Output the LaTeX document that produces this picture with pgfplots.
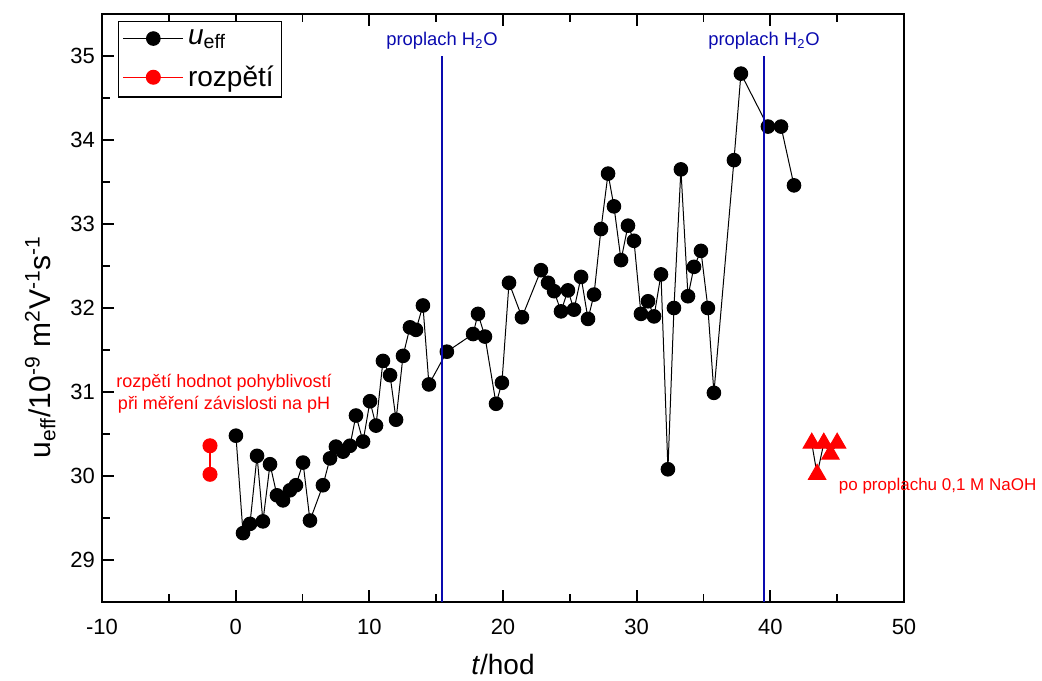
\documentclass[border=0pt]{standalone}
\usepackage{pgfplots}
\pgfplotsset{compat=1.18}
\usepackage{fontspec}
\setmainfont{Liberation Sans}
\definecolor{flushblue}{RGB}{10,10,175}

% effective mobility vs. time
\pgfplotstableread{
t     u
0.02  30.48
0.55  29.32
1.07  29.43
1.60  30.24
2.04  29.46
2.57  30.14
3.09  29.77
3.54  29.71
4.06  29.83
4.51  29.89
5.04  30.16
5.56  29.47
6.53  29.89
7.06  30.21
7.50  30.35
8.03  30.29
8.55  30.36
9.00  30.72
9.53  30.41
10.05 30.89
10.50 30.60
11.02 31.37
11.55 31.20
12.00 30.67
12.52 31.43
13.04 31.77
13.49 31.74
14.01 32.03
14.46 31.09
15.80 31.48
17.76 31.69
18.13 31.93
18.65 31.66
19.48 30.86
19.92 31.11
20.45 32.30
21.42 31.89
22.84 32.45
23.37 32.30
23.82 32.20
24.34 31.96
24.86 32.21
25.31 31.98
25.84 32.37
26.36 31.87
26.81 32.16
27.33 32.94
27.86 33.60
28.30 33.21
28.83 32.57
29.35 32.98
29.80 32.80
30.32 31.93
30.85 32.08
31.30 31.90
31.82 32.40
32.34 30.08
32.79 32.00
33.31 33.65
33.84 32.14
34.29 32.49
34.81 32.68
35.33 32.00
35.78 30.99
37.28 33.76
37.80 34.79
39.82 34.16
40.80 34.16
41.77 33.46
}\ueff

% range from the pH-dependence measurements
\pgfplotstableread{
t     u
-1.92 30.36
-1.92 30.02
}\rozpeti

% after flushing with 0.1 M NaOH
\pgfplotstableread{
t     u
43.10 30.39
43.50 30.02
44.00 30.39
44.50 30.26
45.00 30.39
}\naoh

\begin{document}
\begin{tikzpicture}
\begin{axis}[
  at={(0,0)}, anchor=south west,
  scale only axis, width=401pt, height=294pt,
  xmin=-10, xmax=50, ymin=28.5, ymax=35.5,
  clip mode=individual,
  xtick={-10,0,...,50}, minor xtick={-5,5,...,45},
  ytick={29,...,35}, minor ytick={29.5,30.5,...,34.5},
  tick align=inside, xtick pos=both, ytick pos=left,
  major tick length=6pt, minor tick length=4pt,
  every tick/.style={black, line width=0.9pt},
  axis line style={line width=1pt},
  /pgf/number format/assume math mode=true,
  tick label style={font=\fontsize{11}{13}\selectfont},
  xticklabel style={yshift=-5pt},
  xlabel={\textit{t}/hod},
  ylabel={u\textsubscript{eff}/10\textsuperscript{-9} m\textsuperscript{2}V\textsuperscript{-1}s\textsuperscript{-1}},
  label style={font=\fontsize{14}{16}\selectfont},
  xlabel style={yshift=-3pt},
  ylabel style={at={(axis description cs:-0.077,0.434)}, anchor=center,
    font=\fontsize{15}{17}\selectfont},
  legend style={at={(axis description cs:0.02,0.988)}, anchor=north west,
    draw=black, line width=0.6pt, font=\fontsize{14}{16}\selectfont,
    inner sep=2pt, row sep=5pt},
  legend cell align=left,
  legend image code/.code={\draw[mark repeat=2,mark phase=2,#1]
    plot coordinates {(0pt,0pt) (15pt,0pt) (30pt,0pt)};},
]
\addplot[black, line width=0.5pt, mark=*, mark size=3.4pt,
  mark options={solid, fill=black}] table[x=t, y=u] {\ueff};
\addlegendentry{\textit{u}\textsubscript{eff}}

\addplot[red, line width=0.7pt, mark=*, mark size=3.4pt,
  mark options={solid, fill=red}] table[x=t, y=u] {\rozpeti};
\addlegendentry{rozpětí}

\addplot[forget plot, black, line width=0.5pt, mark=triangle*, mark size=5pt,
  mark options={solid, fill=red, draw=red}] table[x=t, y=u] {\naoh};

% flushing with water
\addplot[forget plot, flushblue, line width=1pt] coordinates {(15.44,28.5) (15.44,35)};
\addplot[forget plot, flushblue, line width=1pt] coordinates {(39.53,28.5) (39.53,35)};

\node[flushblue, anchor=base, font=\fontsize{9.2}{11}\selectfont]
  at (axis cs:15.44,35) [yshift=5pt] {proplach H\textsubscript{2}O};
\node[flushblue, anchor=base, font=\fontsize{9.2}{11}\selectfont]
  at (axis cs:39.53,35) [yshift=5pt] {proplach H\textsubscript{2}O};

\node[red, align=center, font=\fontsize{9}{10.8}\selectfont]
  at (axis cs:-0.87,30.98) {rozpětí hodnot pohyblivostí\\při měření závislosti na pH};
\node[red, anchor=west, inner sep=0pt, font=\fontsize{8.5}{10}\selectfont]
  at (axis cs:45.1,29.88) {po proplachu 0,1 M NaOH};
\end{axis}
\pgfresetboundingbox
\path (-51pt,-39pt) rectangle (470pt,301pt);
\end{tikzpicture}
\end{document}
